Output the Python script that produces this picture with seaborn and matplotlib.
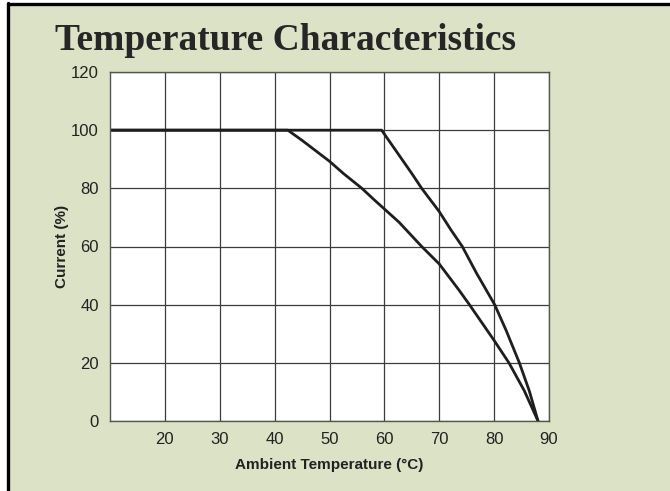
import matplotlib
matplotlib.use("Agg")
import matplotlib.pyplot as plt
import pandas as pd
import seaborn as sns
from matplotlib.patches import Rectangle
from matplotlib.lines import Line2D

# Curves (ambient temperature in C, current in %)
temp_a = [10, 42.4, 45, 50, 52.6, 55.9, 58, 60, 62.7, 66.8, 70, 73.6, 75.5, 80, 82.7, 85.5, 88]
curr_a = [100, 100, 96.5, 89.3, 85, 80, 76.3, 72.9, 68.3, 60, 54, 45, 40, 27.7, 20, 10.4, 0]
temp_b = [10, 59.5, 65, 66.8, 70, 72.1, 74.2, 76.8, 80.1, 82.2, 84.6, 86.4, 88]
curr_b = [100, 100, 85.1, 80, 72, 65.8, 60, 50.8, 40, 31.1, 20, 10.4, 0]

x_ticks = [20, 30, 40, 50, 60, 70, 80, 90]
y_ticks = [0, 20, 40, 60, 80, 100, 120]

df = pd.concat([
    pd.DataFrame({"temp": temp_a, "current": curr_a, "curve": "a"}),
    pd.DataFrame({"temp": temp_b, "current": curr_b, "curve": "b"}),
])

sns.set_style("white")
plt.rcParams["font.family"] = ["Liberation Sans", "DejaVu Sans"]

fig = plt.figure(figsize=(6.7, 4.91), dpi=100, facecolor="white")
# green panel with black frame on top and left
fig.patches.append(Rectangle((8 / 670, 0), 1, 1 - 4 / 491, transform=fig.transFigure,
                             facecolor="#dce2c6", edgecolor="none", zorder=-5))
fig.lines.append(Line2D([7.5 / 670, 1], [1 - 4 / 491] * 2, transform=fig.transFigure,
                        color="black", lw=2.4))
fig.lines.append(Line2D([8 / 670] * 2, [0, 1 - 3 / 491], transform=fig.transFigure,
                        color="black", lw=2.4))

ax = fig.add_axes([110 / 670, 1 - 421 / 491, 439 / 670, 349 / 491])
ax.set_facecolor("white")
sns.lineplot(data=df, x="temp", y="current", units="curve", estimator=None, sort=False,
             color="#1e1e1e", lw=2.0, ax=ax, legend=False)

ax.set_xlim(10, 90)
ax.set_ylim(0, 120)
ax.set_xticks(x_ticks)
ax.set_yticks(y_ticks)
ax.grid(True, color="#3c3c3c", lw=0.9)
ax.set_axisbelow(True)
for s in ax.spines.values():
    s.set_color("#555555")
    s.set_linewidth(1.0)
ax.tick_params(length=0, labelsize=12, pad=8, colors="#222222")
ax.set_xlabel("Ambient Temperature (°C)", fontsize=11, fontweight="bold", color="#222222", labelpad=8)
ax.set_ylabel("Current (%)", fontsize=11, fontweight="bold", color="#222222", labelpad=1.5)

fig.text(55 / 670, 1 - 50 / 491, "Temperature Characteristics", fontsize=27,
         fontweight="bold", family=["Liberation Serif", "DejaVu Serif"], va="baseline")

fig.savefig("out.png", dpi=100, facecolor=fig.get_facecolor())
